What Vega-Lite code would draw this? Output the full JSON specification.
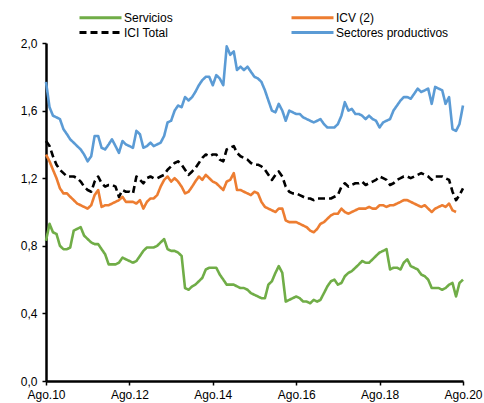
{
  "$schema": "https://vega.github.io/schema/vega-lite/v6.json",
  "width": 417,
  "height": 338,
  "autosize": {"type": "none"},
  "padding": {"left": 46, "top": 43, "right": 21, "bottom": 22},
  "background": "white",
  "config": {"view": {"stroke": null}, "font": "Liberation Sans"},
  "data": {
    "format": {"parse": {"d": "utc:'%Y-%m'"}},
    "values": [
      {"d":"2010-08","s":0.83,"icv":1.34,"ici":1.42,"sp":1.77},
      {"d":"2010-09","s":0.93,"icv":1.30,"ici":1.39,"sp":1.62},
      {"d":"2010-10","s":0.88,"icv":1.25,"ici":1.33,"sp":1.57},
      {"d":"2010-11","s":0.87,"icv":1.20,"ici":1.28,"sp":1.56},
      {"d":"2010-12","s":0.80,"icv":1.14,"ici":1.25,"sp":1.55},
      {"d":"2011-01","s":0.78,"icv":1.11,"ici":1.23,"sp":1.49},
      {"d":"2011-02","s":0.78,"icv":1.11,"ici":1.21,"sp":1.46},
      {"d":"2011-03","s":0.79,"icv":1.09,"ici":1.21,"sp":1.43},
      {"d":"2011-04","s":0.89,"icv":1.07,"ici":1.21,"sp":1.41},
      {"d":"2011-05","s":0.90,"icv":1.05,"ici":1.20,"sp":1.39},
      {"d":"2011-06","s":0.91,"icv":1.04,"ici":1.18,"sp":1.37},
      {"d":"2011-07","s":0.86,"icv":1.03,"ici":1.15,"sp":1.34},
      {"d":"2011-08","s":0.84,"icv":1.02,"ici":1.13,"sp":1.30},
      {"d":"2011-09","s":0.82,"icv":1.04,"ici":1.12,"sp":1.33},
      {"d":"2011-10","s":0.81,"icv":1.10,"ici":1.18,"sp":1.45},
      {"d":"2011-11","s":0.81,"icv":1.13,"ici":1.21,"sp":1.45},
      {"d":"2011-12","s":0.78,"icv":1.03,"ici":1.17,"sp":1.38},
      {"d":"2012-01","s":0.75,"icv":1.04,"ici":1.15,"sp":1.37},
      {"d":"2012-02","s":0.69,"icv":1.04,"ici":1.16,"sp":1.40},
      {"d":"2012-03","s":0.69,"icv":1.05,"ici":1.16,"sp":1.43},
      {"d":"2012-04","s":0.69,"icv":1.06,"ici":1.15,"sp":1.39},
      {"d":"2012-05","s":0.70,"icv":1.07,"ici":1.09,"sp":1.35},
      {"d":"2012-06","s":0.73,"icv":1.09,"ici":1.13,"sp":1.42},
      {"d":"2012-07","s":0.72,"icv":1.06,"ici":1.12,"sp":1.40},
      {"d":"2012-08","s":0.71,"icv":1.06,"ici":1.12,"sp":1.39},
      {"d":"2012-09","s":0.70,"icv":1.06,"ici":1.11,"sp":1.38},
      {"d":"2012-10","s":0.71,"icv":1.05,"ici":1.21,"sp":1.48},
      {"d":"2012-11","s":0.74,"icv":1.07,"ici":1.19,"sp":1.46},
      {"d":"2012-12","s":0.77,"icv":1.02,"ici":1.17,"sp":1.38},
      {"d":"2013-01","s":0.79,"icv":1.06,"ici":1.20,"sp":1.39},
      {"d":"2013-02","s":0.79,"icv":1.08,"ici":1.21,"sp":1.41},
      {"d":"2013-03","s":0.79,"icv":1.08,"ici":1.20,"sp":1.39},
      {"d":"2013-04","s":0.80,"icv":1.10,"ici":1.20,"sp":1.40},
      {"d":"2013-05","s":0.82,"icv":1.15,"ici":1.21,"sp":1.41},
      {"d":"2013-06","s":0.84,"icv":1.19,"ici":1.22,"sp":1.45},
      {"d":"2013-07","s":0.78,"icv":1.21,"ici":1.25,"sp":1.53},
      {"d":"2013-08","s":0.77,"icv":1.18,"ici":1.27,"sp":1.54},
      {"d":"2013-09","s":0.77,"icv":1.20,"ici":1.29,"sp":1.60},
      {"d":"2013-10","s":0.76,"icv":1.18,"ici":1.30,"sp":1.63},
      {"d":"2013-11","s":0.74,"icv":1.15,"ici":1.28,"sp":1.62},
      {"d":"2013-12","s":0.55,"icv":1.11,"ici":1.25,"sp":1.68},
      {"d":"2014-01","s":0.54,"icv":1.12,"ici":1.22,"sp":1.66},
      {"d":"2014-02","s":0.56,"icv":1.15,"ici":1.24,"sp":1.68},
      {"d":"2014-03","s":0.57,"icv":1.18,"ici":1.26,"sp":1.71},
      {"d":"2014-04","s":0.59,"icv":1.21,"ici":1.29,"sp":1.75},
      {"d":"2014-05","s":0.61,"icv":1.19,"ici":1.32,"sp":1.78},
      {"d":"2014-06","s":0.66,"icv":1.22,"ici":1.34,"sp":1.80},
      {"d":"2014-07","s":0.67,"icv":1.20,"ici":1.33,"sp":1.80},
      {"d":"2014-08","s":0.67,"icv":1.18,"ici":1.34,"sp":1.75},
      {"d":"2014-09","s":0.67,"icv":1.17,"ici":1.34,"sp":1.81},
      {"d":"2014-10","s":0.63,"icv":1.15,"ici":1.31,"sp":1.79},
      {"d":"2014-11","s":0.60,"icv":1.13,"ici":1.30,"sp":1.75},
      {"d":"2014-12","s":0.57,"icv":1.18,"ici":1.37,"sp":1.98},
      {"d":"2015-01","s":0.57,"icv":1.19,"ici":1.38,"sp":1.93},
      {"d":"2015-02","s":0.57,"icv":1.23,"ici":1.39,"sp":1.95},
      {"d":"2015-03","s":0.56,"icv":1.13,"ici":1.35,"sp":1.84},
      {"d":"2015-04","s":0.55,"icv":1.13,"ici":1.33,"sp":1.86},
      {"d":"2015-05","s":0.55,"icv":1.12,"ici":1.32,"sp":1.84},
      {"d":"2015-06","s":0.54,"icv":1.11,"ici":1.31,"sp":1.86},
      {"d":"2015-07","s":0.52,"icv":1.10,"ici":1.29,"sp":1.83},
      {"d":"2015-08","s":0.51,"icv":1.12,"ici":1.28,"sp":1.80},
      {"d":"2015-09","s":0.50,"icv":1.11,"ici":1.28,"sp":1.79},
      {"d":"2015-10","s":0.49,"icv":1.06,"ici":1.27,"sp":1.77},
      {"d":"2015-11","s":0.49,"icv":1.03,"ici":1.25,"sp":1.72},
      {"d":"2015-12","s":0.57,"icv":1.02,"ici":1.22,"sp":1.66},
      {"d":"2016-01","s":0.59,"icv":1.01,"ici":1.19,"sp":1.60},
      {"d":"2016-02","s":0.64,"icv":1.00,"ici":1.22,"sp":1.59},
      {"d":"2016-03","s":0.68,"icv":1.02,"ici":1.24,"sp":1.64},
      {"d":"2016-04","s":0.64,"icv":1.02,"ici":1.21,"sp":1.60},
      {"d":"2016-05","s":0.47,"icv":0.95,"ici":1.15,"sp":1.54},
      {"d":"2016-06","s":0.48,"icv":0.94,"ici":1.12,"sp":1.60},
      {"d":"2016-07","s":0.49,"icv":0.94,"ici":1.11,"sp":1.59},
      {"d":"2016-08","s":0.50,"icv":0.94,"ici":1.11,"sp":1.58},
      {"d":"2016-09","s":0.49,"icv":0.93,"ici":1.10,"sp":1.58},
      {"d":"2016-10","s":0.47,"icv":0.92,"ici":1.09,"sp":1.56},
      {"d":"2016-11","s":0.47,"icv":0.91,"ici":1.08,"sp":1.55},
      {"d":"2016-12","s":0.46,"icv":0.89,"ici":1.08,"sp":1.54},
      {"d":"2017-01","s":0.48,"icv":0.88,"ici":1.07,"sp":1.53},
      {"d":"2017-02","s":0.47,"icv":0.90,"ici":1.08,"sp":1.54},
      {"d":"2017-03","s":0.48,"icv":0.93,"ici":1.08,"sp":1.55},
      {"d":"2017-04","s":0.52,"icv":0.94,"ici":1.08,"sp":1.52},
      {"d":"2017-05","s":0.56,"icv":0.96,"ici":1.08,"sp":1.50},
      {"d":"2017-06","s":0.59,"icv":0.98,"ici":1.08,"sp":1.50},
      {"d":"2017-07","s":0.60,"icv":0.99,"ici":1.09,"sp":1.50},
      {"d":"2017-08","s":0.57,"icv":0.99,"ici":1.10,"sp":1.52},
      {"d":"2017-09","s":0.58,"icv":1.02,"ici":1.15,"sp":1.57},
      {"d":"2017-10","s":0.62,"icv":1.00,"ici":1.17,"sp":1.65},
      {"d":"2017-11","s":0.64,"icv":0.99,"ici":1.15,"sp":1.60},
      {"d":"2017-12","s":0.65,"icv":1.00,"ici":1.16,"sp":1.61},
      {"d":"2018-01","s":0.67,"icv":1.01,"ici":1.17,"sp":1.58},
      {"d":"2018-02","s":0.69,"icv":1.02,"ici":1.17,"sp":1.58},
      {"d":"2018-03","s":0.71,"icv":1.02,"ici":1.18,"sp":1.57},
      {"d":"2018-04","s":0.70,"icv":1.02,"ici":1.16,"sp":1.55},
      {"d":"2018-05","s":0.70,"icv":1.03,"ici":1.17,"sp":1.57},
      {"d":"2018-06","s":0.72,"icv":1.02,"ici":1.18,"sp":1.55},
      {"d":"2018-07","s":0.74,"icv":1.02,"ici":1.19,"sp":1.54},
      {"d":"2018-08","s":0.76,"icv":1.04,"ici":1.21,"sp":1.50},
      {"d":"2018-09","s":0.77,"icv":1.04,"ici":1.20,"sp":1.53},
      {"d":"2018-10","s":0.78,"icv":1.03,"ici":1.19,"sp":1.54},
      {"d":"2018-11","s":0.66,"icv":1.04,"ici":1.16,"sp":1.55},
      {"d":"2018-12","s":0.67,"icv":1.04,"ici":1.17,"sp":1.60},
      {"d":"2019-01","s":0.67,"icv":1.05,"ici":1.19,"sp":1.63},
      {"d":"2019-02","s":0.66,"icv":1.06,"ici":1.20,"sp":1.66},
      {"d":"2019-03","s":0.70,"icv":1.07,"ici":1.21,"sp":1.68},
      {"d":"2019-04","s":0.72,"icv":1.07,"ici":1.21,"sp":1.68},
      {"d":"2019-05","s":0.68,"icv":1.06,"ici":1.20,"sp":1.67},
      {"d":"2019-06","s":0.67,"icv":1.05,"ici":1.21,"sp":1.70},
      {"d":"2019-07","s":0.66,"icv":1.04,"ici":1.22,"sp":1.73},
      {"d":"2019-08","s":0.63,"icv":1.03,"ici":1.23,"sp":1.71},
      {"d":"2019-09","s":0.62,"icv":1.04,"ici":1.22,"sp":1.72},
      {"d":"2019-10","s":0.60,"icv":1.02,"ici":1.21,"sp":1.73},
      {"d":"2019-11","s":0.55,"icv":1.00,"ici":1.19,"sp":1.64},
      {"d":"2019-12","s":0.55,"icv":1.02,"ici":1.21,"sp":1.74},
      {"d":"2020-01","s":0.55,"icv":1.03,"ici":1.21,"sp":1.73},
      {"d":"2020-02","s":0.54,"icv":1.04,"ici":1.21,"sp":1.72},
      {"d":"2020-03","s":0.55,"icv":1.03,"ici":1.20,"sp":1.64},
      {"d":"2020-04","s":0.57,"icv":1.05,"ici":1.19,"sp":1.68},
      {"d":"2020-05","s":0.58,"icv":1.01,"ici":1.12,"sp":1.49},
      {"d":"2020-06","s":0.50,"icv":1.00,"ici":1.07,"sp":1.48},
      {"d":"2020-07","s":0.58,"icv":null,"ici":1.10,"sp":1.52},
      {"d":"2020-08","s":0.60,"icv":null,"ici":1.14,"sp":1.63}
    ]
  },
  "transform": [{"fold": ["s", "icv", "ici", "sp"], "as": ["serie", "v"]}],
  "mark": {"type": "line", "strokeWidth": 2.6, "strokeJoin": "round"},
  "encoding": {
    "x": {
      "field": "d", "type": "temporal",
      "scale": {"type": "utc", "nice": false,
        "domain": [{"year": 2010, "month": 8, "date": 1, "utc": true}, {"year": 2020, "month": 8, "date": 1, "utc": true}]},
      "axis": {
        "title": null, "grid": false,
        "values": [
          {"year": 2010, "month": 8, "date": 1, "utc": true},
          {"year": 2012, "month": 8, "date": 1, "utc": true},
          {"year": 2014, "month": 8, "date": 1, "utc": true},
          {"year": 2016, "month": 8, "date": 1, "utc": true},
          {"year": 2018, "month": 8, "date": 1, "utc": true},
          {"year": 2020, "month": 8, "date": 1, "utc": true}
        ],
        "labelExpr": "'Ago.' + utcFormat(datum.value, '%y')",
        "labelFlush": false, "labelOverlap": false,
        "domainColor": "black", "domainWidth": 2.5,
        "tickColor": "black", "tickWidth": 1.5, "tickSize": 4,
        "labelFont": "Liberation Sans", "labelFontSize": 12, "labelColor": "black", "labelPadding": 4
      }
    },
    "y": {
      "field": "v", "type": "quantitative",
      "scale": {"domain": [0, 2], "nice": false, "zero": true},
      "axis": {
        "title": null, "grid": false,
        "values": [0, 0.4, 0.8, 1.2, 1.6, 2.0],
        "labelExpr": "replace(format(datum.value, '.1f'), '.', ',')",
        "domainColor": "black", "domainWidth": 2.5,
        "tickColor": "black", "tickWidth": 1.5, "tickSize": 4,
        "labelFont": "Liberation Sans", "labelFontSize": 12, "labelColor": "black", "labelPadding": 5
      }
    },
    "color": {
      "field": "serie", "type": "nominal",
      "scale": {"domain": ["s", "ici", "icv", "sp"], "range": ["#70AD47", "#000000", "#ED7D31", "#5B9BD5"]},
      "legend": {
        "orient": "none", "legendX": 32, "legendY": -34, "columns": 2, "title": null,
        "symbolType": "M-1,0H5", "symbolSize": 196, "symbolStrokeWidth": 3, "symbolFillColor": "transparent",
        "labelFont": "Liberation Sans", "labelFontSize": 12, "labelColor": "black",
        "labelOffset": 29, "columnPadding": 112, "rowPadding": 0, "labelLimit": 200,
        "labelExpr": "datum.label == 's' ? 'Servicios' : datum.label == 'icv' ? 'ICV (2)' : datum.label == 'ici' ? 'ICI Total' : 'Sectores productivos'"
      }
    },
    "strokeDash": {
      "field": "serie", "type": "nominal",
      "scale": {"domain": ["s", "ici", "icv", "sp"], "range": [[1, 0], [7, 4], [1, 0], [1, 0]]},
      "legend": {
        "orient": "none", "legendX": 32, "legendY": -34, "columns": 2, "title": null,
        "symbolType": "M-1,0H5", "symbolSize": 196, "symbolStrokeWidth": 3, "symbolFillColor": "transparent",
        "labelFont": "Liberation Sans", "labelFontSize": 12, "labelColor": "black",
        "labelOffset": 29, "columnPadding": 112, "rowPadding": 0, "labelLimit": 200,
        "labelExpr": "datum.label == 's' ? 'Servicios' : datum.label == 'icv' ? 'ICV (2)' : datum.label == 'ici' ? 'ICI Total' : 'Sectores productivos'"
      }
    }
  }
}
